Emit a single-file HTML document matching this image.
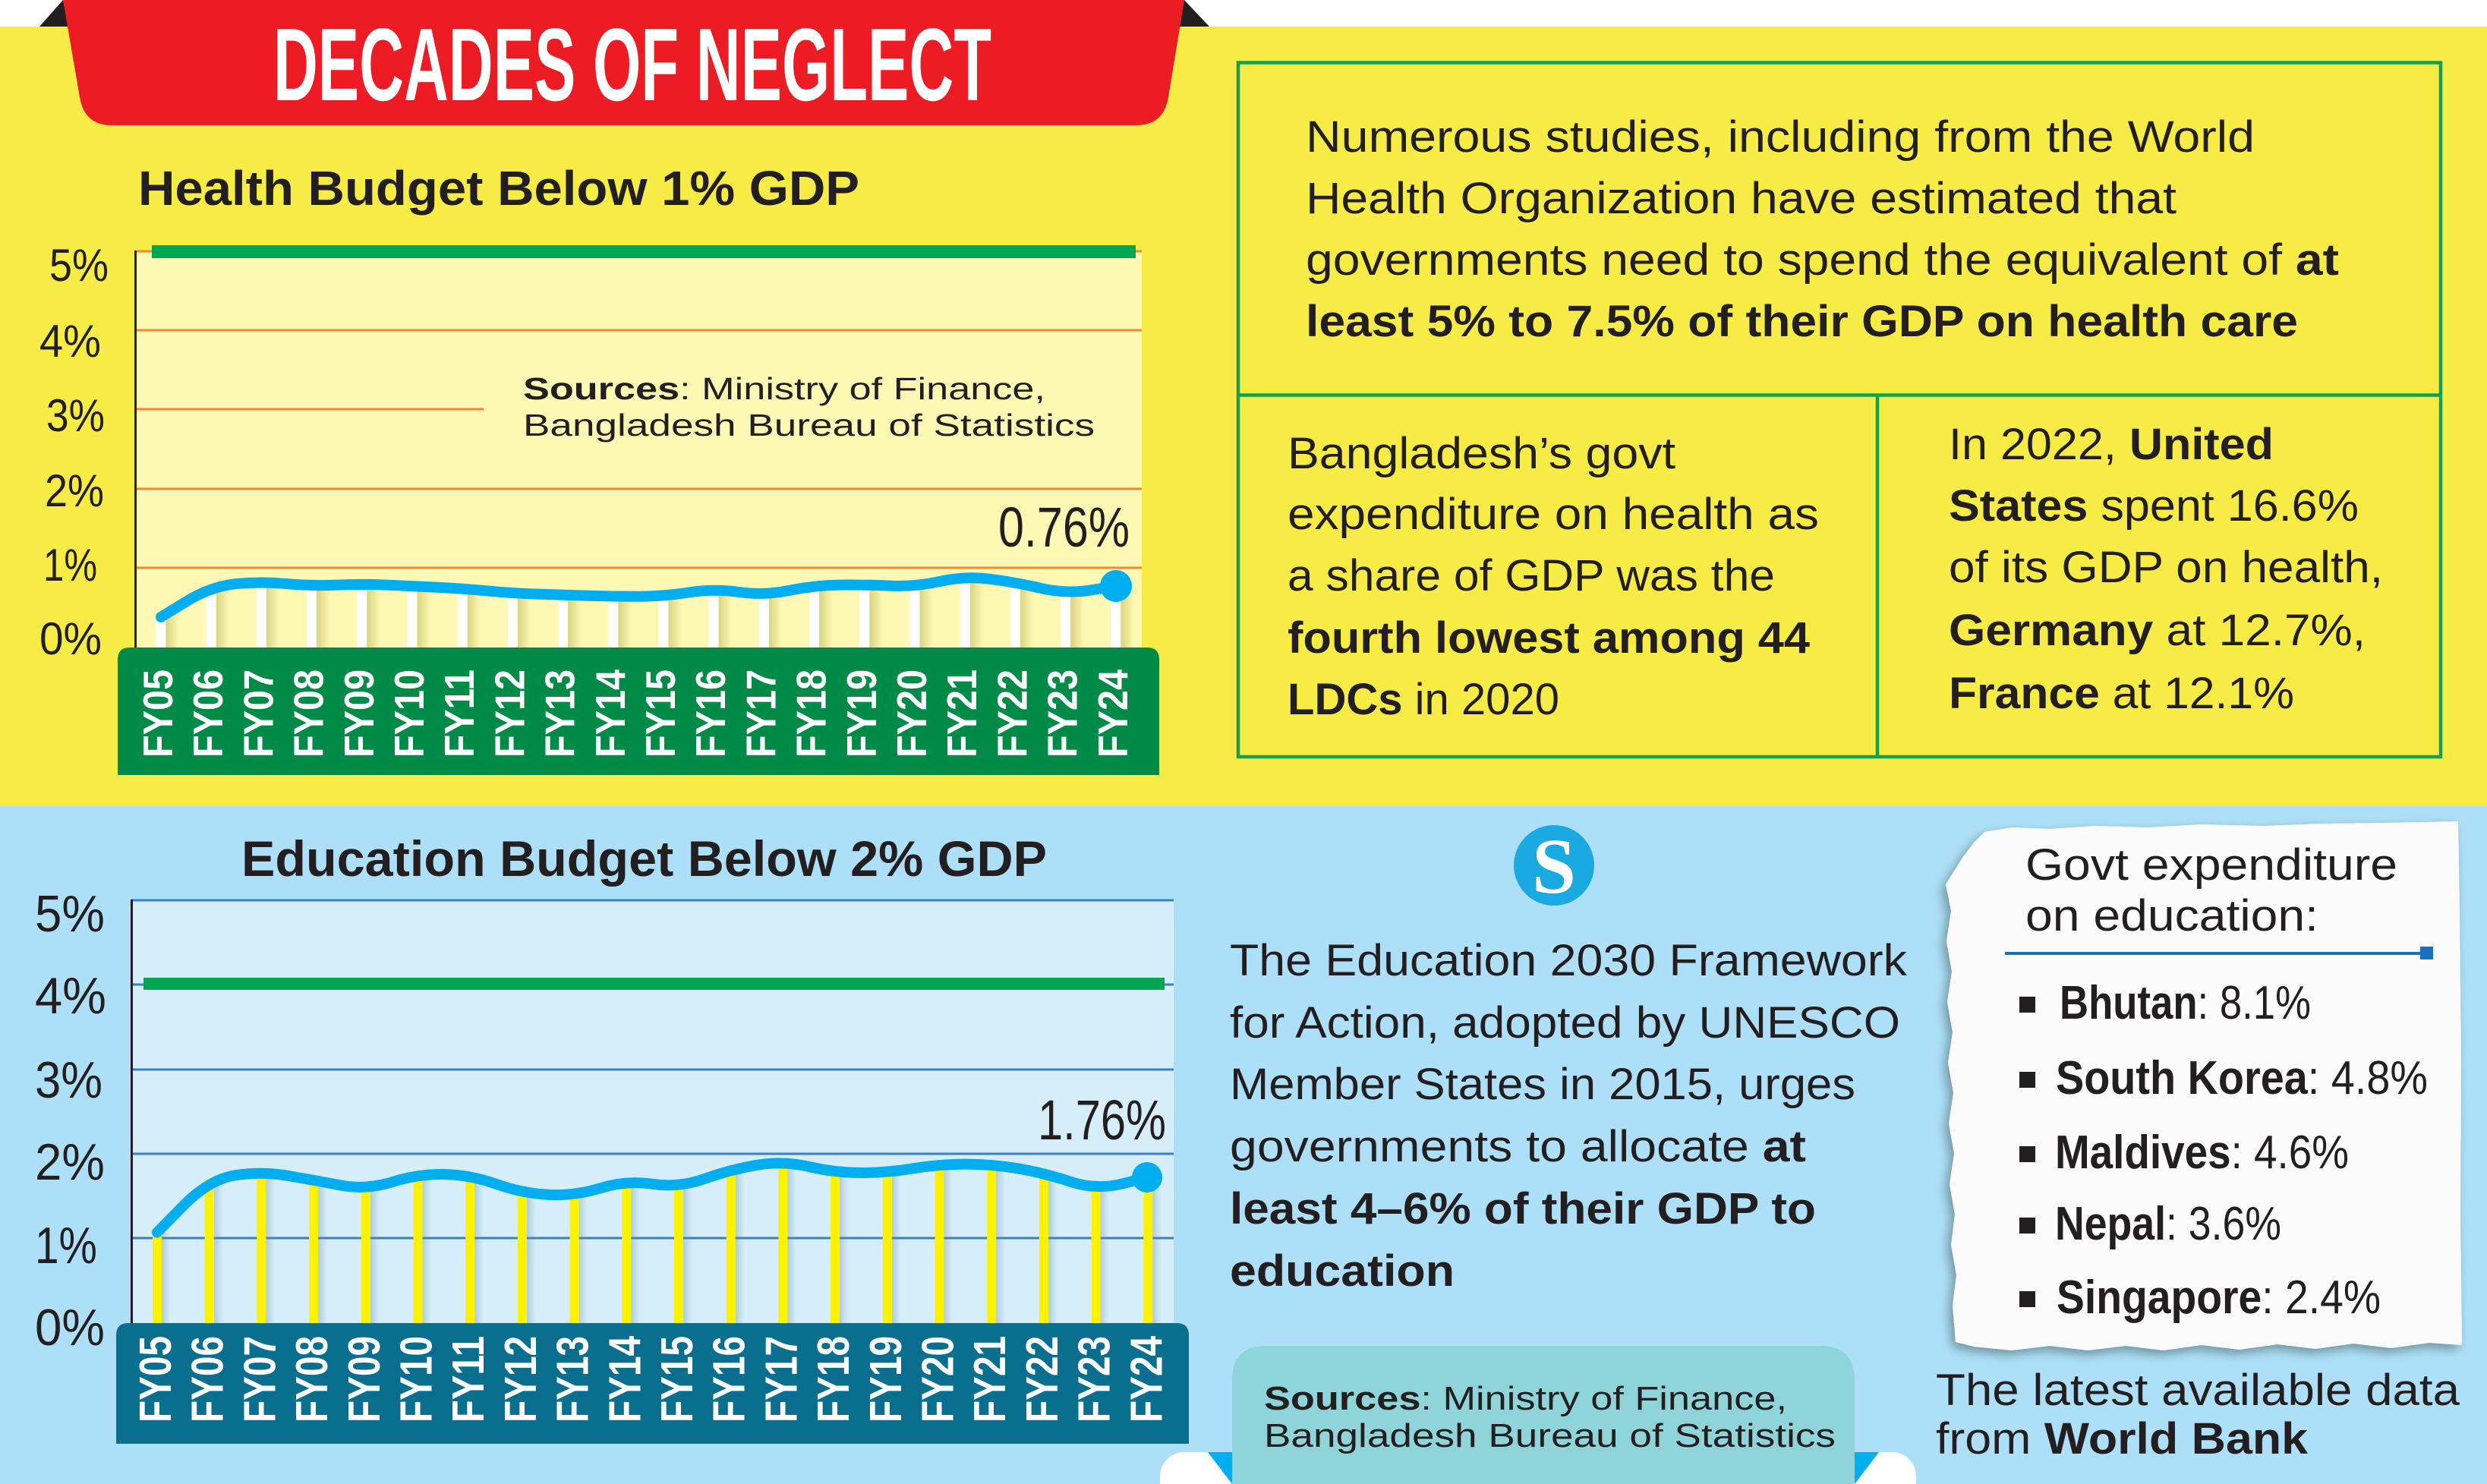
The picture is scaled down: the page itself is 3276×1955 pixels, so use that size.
<!DOCTYPE html>
<html>
<head>
<meta charset="utf-8">
<style>
html,body{margin:0;padding:0;background:#fff;}
svg{display:block;}
text{font-family:"Liberation Sans",sans-serif;fill:#231f20;}
.n{font-family:"Liberation Sans Narrow","Liberation Sans",sans-serif;}
.b{font-weight:700;}
</style>
</head>
<body>
<svg width="3276" height="1955" viewBox="0 0 3276 1955" xmlns="http://www.w3.org/2000/svg">
<defs>
  <filter id="sh" x="-10%" y="-10%" width="120%" height="120%">
    <feDropShadow dx="-5" dy="6" stdDeviation="7" flood-color="#000" flood-opacity="0.35"/>
  </filter>
  <linearGradient id="olR" x1="0" x2="1" y1="0" y2="0">
    <stop offset="0" stop-color="#a9a540" stop-opacity="0.45"/>
    <stop offset="1" stop-color="#a9a540" stop-opacity="0"/>
  </linearGradient>
  <linearGradient id="olL" x1="1" x2="0" y1="0" y2="0">
    <stop offset="0" stop-color="#a9a540" stop-opacity="0.25"/>
    <stop offset="1" stop-color="#a9a540" stop-opacity="0"/>
  </linearGradient>
  <linearGradient id="blR" x1="0" x2="1" y1="0" y2="0">
    <stop offset="0" stop-color="#6a8fa0" stop-opacity="0.35"/>
    <stop offset="1" stop-color="#6a8fa0" stop-opacity="0"/>
  </linearGradient>
</defs>

<!-- backgrounds -->
<rect x="0" y="0" width="3276" height="36" fill="#ffffff"/>
<rect x="0" y="35" width="3276" height="1028" fill="#f6ec45"/>
<rect x="0" y="1062" width="3276" height="893" fill="#ade0f8"/>

<!-- banner -->
<polygon points="52,35 83,0 90,35" fill="#231f20"/>
<polygon points="1553,35 1560,0 1593,35" fill="#231f20"/>
<path d="M83,0 H1560 L1539,128 Q1533,165 1497,165 H147 Q111,165 105,128 Z" fill="#ec1c24"/>
<text x="360" y="132" class="n b" font-size="136" textLength="946" lengthAdjust="spacingAndGlyphs" style="fill:#ffffff">DECADES OF NEGLECT</text>

<!-- ========== HEALTH CHART ========== -->
<text x="182" y="270" class="b" font-size="64" textLength="950" lengthAdjust="spacingAndGlyphs">Health Budget Below 1% GDP</text>

<rect x="180" y="331" width="1324" height="522" fill="#fdf8b4"/>
<g stroke="#f58634" stroke-width="3">
  <line x1="180" y1="331" x2="1504" y2="331"/>
  <line x1="180" y1="435" x2="1504" y2="435"/>
  <line x1="180" y1="539" x2="637" y2="539"/>
  <line x1="180" y1="644" x2="1504" y2="644"/>
  <line x1="180" y1="748" x2="1504" y2="748"/>
</g>
<line x1="178.5" y1="330" x2="178.5" y2="853" stroke="#231f20" stroke-width="3"/>
<rect x="200" y="323" width="1296" height="17" fill="#00a651"/>

<g class="n" font-size="60">
  <text x="65" y="370" textLength="78" lengthAdjust="spacingAndGlyphs">5%</text>
  <text x="52" y="470" textLength="81" lengthAdjust="spacingAndGlyphs">4%</text>
  <text x="61" y="568" textLength="77" lengthAdjust="spacingAndGlyphs">3%</text>
  <text x="59" y="667" textLength="78" lengthAdjust="spacingAndGlyphs">2%</text>
  <text x="57" y="765" textLength="71" lengthAdjust="spacingAndGlyphs">1%</text>
  <text x="52" y="862" textLength="82" lengthAdjust="spacingAndGlyphs">0%</text>
</g>

<text x="689" y="526" font-size="41" textLength="688" lengthAdjust="spacingAndGlyphs"><tspan class="b">Sources</tspan>: Ministry of Finance,</text>
<text x="689" y="574" font-size="41" textLength="753" lengthAdjust="spacingAndGlyphs">Bangladesh Bureau of Statistics</text>

<!-- health stems -->
<g>
  <rect x="218" y="813" width="18" height="40" fill="url(#olR)"/>
  <rect x="284" y="772" width="18" height="81" fill="url(#olR)"/>
  <rect x="350" y="766" width="18" height="87" fill="url(#olR)"/>
  <rect x="417" y="772" width="18" height="81" fill="url(#olR)"/>
  <rect x="483" y="769" width="18" height="84" fill="url(#olR)"/>
  <rect x="549" y="772" width="18" height="81" fill="url(#olR)"/>
  <rect x="615" y="775" width="18" height="78" fill="url(#olR)"/>
  <rect x="681" y="782" width="18" height="71" fill="url(#olR)"/>
  <rect x="748" y="784" width="18" height="69" fill="url(#olR)"/>
  <rect x="814" y="786" width="18" height="67" fill="url(#olR)"/>
  <rect x="880" y="786" width="18" height="67" fill="url(#olR)"/>
  <rect x="946" y="775" width="18" height="78" fill="url(#olR)"/>
  <rect x="1012" y="785" width="18" height="68" fill="url(#olR)"/>
  <rect x="1079" y="771" width="18" height="82" fill="url(#olR)"/>
  <rect x="1145" y="770" width="18" height="83" fill="url(#olR)"/>
  <rect x="1211" y="773" width="18" height="80" fill="url(#olR)"/>
  <rect x="1277" y="759" width="18" height="94" fill="url(#olR)"/>
  <rect x="1343" y="767" width="18" height="86" fill="url(#olR)"/>
  <rect x="1410" y="783" width="18" height="70" fill="url(#olR)"/>
  <rect x="1476" y="772" width="18" height="81" fill="url(#olR)"/>
</g>
<g fill="#ffffff">
  <rect x="205.5" y="813" width="13" height="40"/>
  <rect x="271.7" y="772" width="13" height="81"/>
  <rect x="337.9" y="766" width="13" height="87"/>
  <rect x="404.1" y="772" width="13" height="81"/>
  <rect x="470.3" y="769" width="13" height="84"/>
  <rect x="536.5" y="772" width="13" height="81"/>
  <rect x="602.7" y="775" width="13" height="78"/>
  <rect x="668.9" y="782" width="13" height="71"/>
  <rect x="735.1" y="784" width="13" height="69"/>
  <rect x="801.3" y="786" width="13" height="67"/>
  <rect x="867.5" y="786" width="13" height="67"/>
  <rect x="933.7" y="775" width="13" height="78"/>
  <rect x="999.9" y="785" width="13" height="68"/>
  <rect x="1066.1" y="771" width="13" height="82"/>
  <rect x="1132.3" y="770" width="13" height="83"/>
  <rect x="1198.5" y="773" width="13" height="80"/>
  <rect x="1264.7" y="759" width="13" height="94"/>
  <rect x="1330.9" y="767" width="13" height="86"/>
  <rect x="1397.1" y="783" width="13" height="70"/>
  <rect x="1463.3" y="772" width="13" height="81"/>
</g>

<path d="M212,812.9 L245.1,792.55 Q278.2,772.2 311.3,769.05 Q344.4,765.9 377.5,769.05 Q410.6,772.2 443.7,770.65 Q476.8,769.1 509.9,770.65 Q543,772.2 576.1,773.75 Q609.2,775.3 642.3,778.45 Q675.4,781.6 708.5,782.65 Q741.6,783.7 774.7,784.7 Q807.8,785.7 840.9,785.7 Q874,785.7 907.1,780.5 Q940.2,775.3 973.3,780 Q1006.4,784.7 1039.5,777.9 Q1072.6,771.1 1105.7,770.6 Q1138.8,770.1 1171.9,771.65 Q1205,773.2 1238.1,765.9 Q1271.2,758.6 1304.3,762.8 Q1337.4,767 1370.5,774.8 Q1403.6,782.6 1436.7,777.4 L1469.8,772.2" fill="none" stroke="#00aeef" stroke-width="14" stroke-linecap="round" stroke-linejoin="round"/>
<circle cx="1470" cy="772" r="21" fill="#00aeef"/>
<text x="1315" y="720" class="n" font-size="74" textLength="173" lengthAdjust="spacingAndGlyphs">0.76%</text>

<path d="M155,1021 V869 Q155,853 171,853 H1511 Q1527,853 1527,869 V1021 Z" fill="#008a47"/>
<g class="b" font-size="55" style="fill:#ffffff">
  <text transform="translate(227,998) rotate(-90)" textLength="116" lengthAdjust="spacingAndGlyphs" style="fill:#fff">FY05</text>
  <text transform="translate(293.2,998) rotate(-90)" textLength="116" lengthAdjust="spacingAndGlyphs" style="fill:#fff">FY06</text>
  <text transform="translate(359.4,998) rotate(-90)" textLength="116" lengthAdjust="spacingAndGlyphs" style="fill:#fff">FY07</text>
  <text transform="translate(425.6,998) rotate(-90)" textLength="116" lengthAdjust="spacingAndGlyphs" style="fill:#fff">FY08</text>
  <text transform="translate(491.8,998) rotate(-90)" textLength="116" lengthAdjust="spacingAndGlyphs" style="fill:#fff">FY09</text>
  <text transform="translate(558,998) rotate(-90)" textLength="116" lengthAdjust="spacingAndGlyphs" style="fill:#fff">FY10</text>
  <text transform="translate(624.2,998) rotate(-90)" textLength="116" lengthAdjust="spacingAndGlyphs" style="fill:#fff">FY11</text>
  <text transform="translate(690.4,998) rotate(-90)" textLength="116" lengthAdjust="spacingAndGlyphs" style="fill:#fff">FY12</text>
  <text transform="translate(756.6,998) rotate(-90)" textLength="116" lengthAdjust="spacingAndGlyphs" style="fill:#fff">FY13</text>
  <text transform="translate(822.8,998) rotate(-90)" textLength="116" lengthAdjust="spacingAndGlyphs" style="fill:#fff">FY14</text>
  <text transform="translate(889,998) rotate(-90)" textLength="116" lengthAdjust="spacingAndGlyphs" style="fill:#fff">FY15</text>
  <text transform="translate(955.2,998) rotate(-90)" textLength="116" lengthAdjust="spacingAndGlyphs" style="fill:#fff">FY16</text>
  <text transform="translate(1021.4,998) rotate(-90)" textLength="116" lengthAdjust="spacingAndGlyphs" style="fill:#fff">FY17</text>
  <text transform="translate(1087.6,998) rotate(-90)" textLength="116" lengthAdjust="spacingAndGlyphs" style="fill:#fff">FY18</text>
  <text transform="translate(1153.8,998) rotate(-90)" textLength="116" lengthAdjust="spacingAndGlyphs" style="fill:#fff">FY19</text>
  <text transform="translate(1220,998) rotate(-90)" textLength="116" lengthAdjust="spacingAndGlyphs" style="fill:#fff">FY20</text>
  <text transform="translate(1286.2,998) rotate(-90)" textLength="116" lengthAdjust="spacingAndGlyphs" style="fill:#fff">FY21</text>
  <text transform="translate(1352.4,998) rotate(-90)" textLength="116" lengthAdjust="spacingAndGlyphs" style="fill:#fff">FY22</text>
  <text transform="translate(1418.6,998) rotate(-90)" textLength="116" lengthAdjust="spacingAndGlyphs" style="fill:#fff">FY23</text>
  <text transform="translate(1484.8,998) rotate(-90)" textLength="116" lengthAdjust="spacingAndGlyphs" style="fill:#fff">FY24</text>
</g>

<!-- ========== HEALTH TEXT BOX ========== -->
<rect x="1631" y="82.5" width="1584" height="914.5" fill="none" stroke="#14a04f" stroke-width="4.5"/>
<line x1="1631" y1="520.5" x2="3215" y2="520.5" stroke="#14a04f" stroke-width="4.5"/>
<line x1="2473" y1="520.5" x2="2473" y2="997" stroke="#14a04f" stroke-width="4.5"/>

<g font-size="58">
  <text x="1720" y="200" textLength="1250" lengthAdjust="spacingAndGlyphs">Numerous studies, including from the World</text>
  <text x="1720" y="281" textLength="1147" lengthAdjust="spacingAndGlyphs">Health Organization have estimated that</text>
  <text x="1720" y="362" textLength="1361" lengthAdjust="spacingAndGlyphs">governments need to spend the equivalent of <tspan class="b">at</tspan></text>
  <text x="1720" y="443" class="b" textLength="1307" lengthAdjust="spacingAndGlyphs">least 5% to 7.5% of their GDP on health care</text>

  <text x="1696" y="617" textLength="511" lengthAdjust="spacingAndGlyphs">Bangladesh’s govt</text>
  <text x="1696" y="697" textLength="700" lengthAdjust="spacingAndGlyphs">expenditure on health as</text>
  <text x="1696" y="778" textLength="642" lengthAdjust="spacingAndGlyphs">a share of GDP was the</text>
  <text x="1696" y="860" class="b" textLength="688" lengthAdjust="spacingAndGlyphs">fourth lowest among 44</text>
  <text x="1696" y="941" textLength="358" lengthAdjust="spacingAndGlyphs"><tspan class="b">LDCs</tspan> in 2020</text>

  <text x="2567" y="605" textLength="428" lengthAdjust="spacingAndGlyphs">In 2022, <tspan class="b">United</tspan></text>
  <text x="2567" y="686" textLength="540" lengthAdjust="spacingAndGlyphs"><tspan class="b">States</tspan> spent 16.6%</text>
  <text x="2567" y="767" textLength="572" lengthAdjust="spacingAndGlyphs">of its GDP on health,</text>
  <text x="2567" y="850" textLength="549" lengthAdjust="spacingAndGlyphs"><tspan class="b">Germany</tspan> at 12.7%,</text>
  <text x="2567" y="933" textLength="455" lengthAdjust="spacingAndGlyphs"><tspan class="b">France</tspan> at 12.1%</text>
</g>

<!-- ========== EDUCATION CHART ========== -->
<text x="318" y="1154" class="b" font-size="66" textLength="1061" lengthAdjust="spacingAndGlyphs">Education Budget Below 2% GDP</text>

<rect x="175" y="1186" width="1371" height="557" fill="#d6eefa"/>
<g stroke="#3a80c2" stroke-width="3">
  <line x1="173" y1="1186" x2="1546" y2="1186"/>
  <line x1="173" y1="1297" x2="1546" y2="1297"/>
  <line x1="173" y1="1409" x2="1546" y2="1409"/>
  <line x1="173" y1="1520" x2="1546" y2="1520"/>
  <line x1="173" y1="1631" x2="1546" y2="1631"/>
</g>
<line x1="173.5" y1="1185" x2="173.5" y2="1743" stroke="#231f20" stroke-width="3"/>
<rect x="189" y="1288" width="1345" height="16" fill="#00a651"/>

<g class="n" font-size="68">
  <text x="46" y="1227" textLength="92" lengthAdjust="spacingAndGlyphs">5%</text>
  <text x="46" y="1335" textLength="94" lengthAdjust="spacingAndGlyphs">4%</text>
  <text x="46" y="1446" textLength="89" lengthAdjust="spacingAndGlyphs">3%</text>
  <text x="46" y="1554" textLength="92" lengthAdjust="spacingAndGlyphs">2%</text>
  <text x="46" y="1664" textLength="82" lengthAdjust="spacingAndGlyphs">1%</text>
  <text x="46" y="1772" textLength="92" lengthAdjust="spacingAndGlyphs">0%</text>
</g>

<!-- edu stems -->
<g>
  <rect x="213" y="1624" width="12" height="119" fill="url(#blR)"/>
  <rect x="282" y="1554" width="12" height="189" fill="url(#blR)"/>
  <rect x="350" y="1543" width="12" height="200" fill="url(#blR)"/>
  <rect x="419" y="1555" width="12" height="188" fill="url(#blR)"/>
  <rect x="488" y="1568" width="12" height="175" fill="url(#blR)"/>
  <rect x="556" y="1547" width="12" height="196" fill="url(#blR)"/>
  <rect x="625" y="1548" width="12" height="195" fill="url(#blR)"/>
  <rect x="694" y="1572" width="12" height="171" fill="url(#blR)"/>
  <rect x="762" y="1576" width="12" height="167" fill="url(#blR)"/>
  <rect x="831" y="1555" width="12" height="188" fill="url(#blR)"/>
  <rect x="900" y="1565" width="12" height="178" fill="url(#blR)"/>
  <rect x="969" y="1541" width="12" height="202" fill="url(#blR)"/>
  <rect x="1037" y="1529" width="12" height="214" fill="url(#blR)"/>
  <rect x="1106" y="1545" width="12" height="198" fill="url(#blR)"/>
  <rect x="1175" y="1545" width="12" height="198" fill="url(#blR)"/>
  <rect x="1243" y="1534" width="12" height="209" fill="url(#blR)"/>
  <rect x="1312" y="1534" width="12" height="209" fill="url(#blR)"/>
  <rect x="1381" y="1545" width="12" height="198" fill="url(#blR)"/>
  <rect x="1449" y="1568" width="12" height="175" fill="url(#blR)"/>
  <rect x="1518" y="1551" width="12" height="192" fill="url(#blR)"/>
</g>
<g fill="#fff200">
  <rect x="201" y="1624" width="12" height="119"/>
  <rect x="269.7" y="1554" width="12" height="189"/>
  <rect x="338.4" y="1543" width="12" height="200"/>
  <rect x="407.1" y="1555" width="12" height="188"/>
  <rect x="475.8" y="1568" width="12" height="175"/>
  <rect x="544.5" y="1547" width="12" height="196"/>
  <rect x="613.2" y="1548" width="12" height="195"/>
  <rect x="681.9" y="1572" width="12" height="171"/>
  <rect x="750.6" y="1576" width="12" height="167"/>
  <rect x="819.3" y="1555" width="12" height="188"/>
  <rect x="888" y="1565" width="12" height="178"/>
  <rect x="956.7" y="1541" width="12" height="202"/>
  <rect x="1025.4" y="1529" width="12" height="214"/>
  <rect x="1094.1" y="1545" width="12" height="198"/>
  <rect x="1162.8" y="1545" width="12" height="198"/>
  <rect x="1231.5" y="1534" width="12" height="209"/>
  <rect x="1300.2" y="1534" width="12" height="209"/>
  <rect x="1368.9" y="1545" width="12" height="198"/>
  <rect x="1437.6" y="1568" width="12" height="175"/>
  <rect x="1506.3" y="1551" width="12" height="192"/>
</g>

<path d="M207,1623.5 L241.35,1588.5 Q275.7,1553.5 310.05,1548.25 Q344.4,1543 378.75,1548.8 Q413.1,1554.6 447.45,1561.3 Q481.8,1568 516.15,1557.25 Q550.5,1546.5 584.85,1547.05 Q619.2,1547.6 653.55,1559.8 Q687.9,1572 722.25,1573.85 Q756.6,1575.7 790.95,1565.15 Q825.3,1554.6 859.65,1559.8 Q894,1565 928.35,1552.8 Q962.7,1540.6 997.05,1534.8 Q1031.4,1529 1065.75,1537 Q1100.1,1545 1134.45,1545 Q1168.8,1545 1203.15,1539.3 Q1237.5,1533.6 1271.85,1533.6 Q1306.2,1533.6 1340.55,1539.3 Q1374.9,1545 1409.25,1556.5 Q1443.6,1568 1477.95,1559.5 L1512.3,1551" fill="none" stroke="#00aeef" stroke-width="14" stroke-linecap="round" stroke-linejoin="round"/>
<circle cx="1511" cy="1551" r="20" fill="#00aeef"/>
<text x="1367" y="1501" class="n" font-size="74" textLength="169" lengthAdjust="spacingAndGlyphs">1.76%</text>

<path d="M153,1902 V1759 Q153,1743 169,1743 H1550 Q1566,1743 1566,1759 V1902 Z" fill="#0a6f8f"/>
<g class="b" font-size="59">
  <text transform="translate(225,1874) rotate(-90)" textLength="114" lengthAdjust="spacingAndGlyphs" style="fill:#fff">FY05</text>
  <text transform="translate(293.7,1874) rotate(-90)" textLength="114" lengthAdjust="spacingAndGlyphs" style="fill:#fff">FY06</text>
  <text transform="translate(362.4,1874) rotate(-90)" textLength="114" lengthAdjust="spacingAndGlyphs" style="fill:#fff">FY07</text>
  <text transform="translate(431.1,1874) rotate(-90)" textLength="114" lengthAdjust="spacingAndGlyphs" style="fill:#fff">FY08</text>
  <text transform="translate(499.8,1874) rotate(-90)" textLength="114" lengthAdjust="spacingAndGlyphs" style="fill:#fff">FY09</text>
  <text transform="translate(568.5,1874) rotate(-90)" textLength="114" lengthAdjust="spacingAndGlyphs" style="fill:#fff">FY10</text>
  <text transform="translate(637.2,1874) rotate(-90)" textLength="114" lengthAdjust="spacingAndGlyphs" style="fill:#fff">FY11</text>
  <text transform="translate(705.9,1874) rotate(-90)" textLength="114" lengthAdjust="spacingAndGlyphs" style="fill:#fff">FY12</text>
  <text transform="translate(774.6,1874) rotate(-90)" textLength="114" lengthAdjust="spacingAndGlyphs" style="fill:#fff">FY13</text>
  <text transform="translate(843.3,1874) rotate(-90)" textLength="114" lengthAdjust="spacingAndGlyphs" style="fill:#fff">FY14</text>
  <text transform="translate(912,1874) rotate(-90)" textLength="114" lengthAdjust="spacingAndGlyphs" style="fill:#fff">FY15</text>
  <text transform="translate(980.7,1874) rotate(-90)" textLength="114" lengthAdjust="spacingAndGlyphs" style="fill:#fff">FY16</text>
  <text transform="translate(1049.4,1874) rotate(-90)" textLength="114" lengthAdjust="spacingAndGlyphs" style="fill:#fff">FY17</text>
  <text transform="translate(1118.1,1874) rotate(-90)" textLength="114" lengthAdjust="spacingAndGlyphs" style="fill:#fff">FY18</text>
  <text transform="translate(1186.8,1874) rotate(-90)" textLength="114" lengthAdjust="spacingAndGlyphs" style="fill:#fff">FY19</text>
  <text transform="translate(1255.5,1874) rotate(-90)" textLength="114" lengthAdjust="spacingAndGlyphs" style="fill:#fff">FY20</text>
  <text transform="translate(1324.2,1874) rotate(-90)" textLength="114" lengthAdjust="spacingAndGlyphs" style="fill:#fff">FY21</text>
  <text transform="translate(1392.9,1874) rotate(-90)" textLength="114" lengthAdjust="spacingAndGlyphs" style="fill:#fff">FY22</text>
  <text transform="translate(1461.6,1874) rotate(-90)" textLength="114" lengthAdjust="spacingAndGlyphs" style="fill:#fff">FY23</text>
  <text transform="translate(1530.3,1874) rotate(-90)" textLength="114" lengthAdjust="spacingAndGlyphs" style="fill:#fff">FY24</text>
</g>

<!-- logo -->
<circle cx="2047" cy="1140" r="53" fill="#1aaae2"/>
<text x="2047" y="1176" text-anchor="middle" font-size="104" font-weight="700" style="fill:#ffffff;font-family:'Liberation Serif',serif">S</text>

<!-- education text -->
<g font-size="58">
  <text x="1620" y="1285" textLength="892" lengthAdjust="spacingAndGlyphs">The Education 2030 Framework</text>
  <text x="1620" y="1367" textLength="883" lengthAdjust="spacingAndGlyphs">for Action, adopted by UNESCO</text>
  <text x="1620" y="1448" textLength="824" lengthAdjust="spacingAndGlyphs">Member States in 2015, urges</text>
  <text x="1620" y="1530" textLength="759" lengthAdjust="spacingAndGlyphs">governments to allocate <tspan class="b">at</tspan></text>
  <text x="1620" y="1612" class="b" textLength="772" lengthAdjust="spacingAndGlyphs">least 4–6% of their GDP to</text>
  <text x="1620" y="1694" class="b" textLength="296" lengthAdjust="spacingAndGlyphs">education</text>
</g>

<!-- bottom sources tab -->
<rect x="1528" y="1913" width="112" height="70" rx="32" fill="#ffffff"/>
<rect x="2426" y="1913" width="98" height="70" rx="32" fill="#ffffff"/>
<polygon points="1591,1913 1623,1913 1623,1955" fill="#00aeef"/>
<polygon points="2443,1913 2475,1913 2443,1955" fill="#00aeef"/>
<path d="M1623,1955 V1818 Q1623,1773 1668,1773 H2398 Q2443,1773 2443,1818 V1955 Z" fill="#8fd4d9"/>
<text x="1665" y="1857" font-size="44" textLength="689" lengthAdjust="spacingAndGlyphs"><tspan class="b">Sources</tspan>: Ministry of Finance,</text>
<text x="1665" y="1906" font-size="44" textLength="753" lengthAdjust="spacingAndGlyphs">Bangladesh Bureau of Statistics</text>

<!-- paper note -->
<polygon filter="url(#sh)" fill="#fbfbfb" points="2614,1096 2650,1090 2700,1092 2760,1088 2830,1090 2900,1086 2980,1088 3060,1085 3140,1084 3238,1082 3240,1200 3242,1400 3241,1600 3243,1772 3200,1769 3150,1776 3100,1770 3050,1777 3000,1771 2950,1778 2900,1772 2850,1779 2800,1773 2750,1779 2700,1773 2650,1779 2600,1774 2576,1768 2572,1720 2577,1680 2570,1640 2575,1600 2568,1560 2574,1520 2567,1480 2573,1440 2566,1400 2572,1360 2565,1320 2571,1280 2564,1240 2570,1200 2563,1165 2585,1130 2600,1110"/>
<text x="2668" y="1159" font-size="58" textLength="490" lengthAdjust="spacingAndGlyphs">Govt expenditure</text>
<text x="2668" y="1226" font-size="58" textLength="386" lengthAdjust="spacingAndGlyphs">on education:</text>
<line x1="2641" y1="1256" x2="3200" y2="1256" stroke="#1a6fc0" stroke-width="4"/>
<rect x="3188" y="1247" width="17" height="17" fill="#1a6fc0"/>

<g fill="#231f20">
  <rect x="2660" y="1313" width="21" height="21"/>
  <rect x="2660" y="1412" width="21" height="21"/>
  <rect x="2660" y="1510" width="21" height="21"/>
  <rect x="2660" y="1604" width="21" height="21"/>
  <rect x="2660" y="1701" width="21" height="21"/>
</g>
<g font-size="62">
  <text x="2713" y="1342" textLength="331" lengthAdjust="spacingAndGlyphs"><tspan class="b">Bhutan</tspan>: 8.1%</text>
  <text x="2708" y="1441" textLength="490" lengthAdjust="spacingAndGlyphs"><tspan class="b">South Korea</tspan>: 4.8%</text>
  <text x="2707" y="1539" textLength="387" lengthAdjust="spacingAndGlyphs"><tspan class="b">Maldives</tspan>: 4.6%</text>
  <text x="2707" y="1633" textLength="298" lengthAdjust="spacingAndGlyphs"><tspan class="b">Nepal</tspan>: 3.6%</text>
  <text x="2709" y="1730" textLength="427" lengthAdjust="spacingAndGlyphs"><tspan class="b">Singapore</tspan>: 2.4%</text>
</g>

<text x="2550" y="1851" font-size="58" textLength="690" lengthAdjust="spacingAndGlyphs">The latest available data</text>
<text x="2550" y="1915" font-size="58" textLength="490" lengthAdjust="spacingAndGlyphs">from <tspan class="b">World Bank</tspan></text>
</svg>
</body>
</html>
